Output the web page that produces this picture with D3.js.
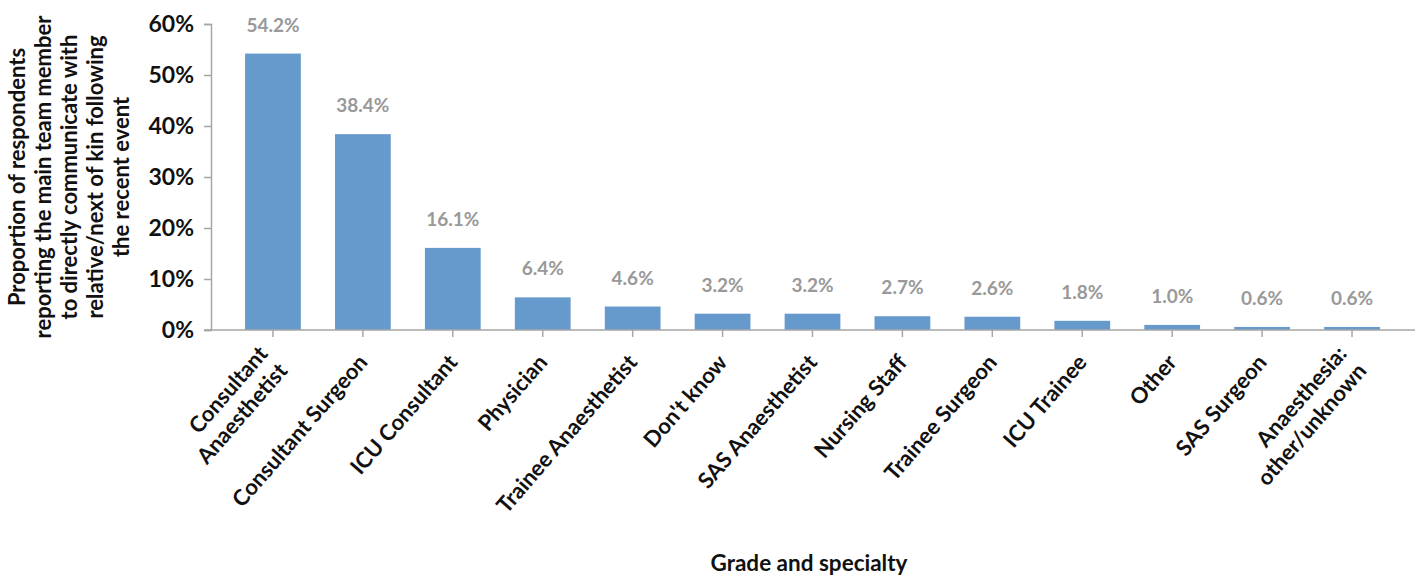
<!DOCTYPE html>
<html><head><meta charset="utf-8">
<script src="https://cdn.jsdelivr.net/npm/d3@7"></script>
<style>body{margin:0;background:#fff}svg{display:block}text{font-family:Lato,"Open Sans",sans-serif}</style>
</head><body><svg id="c" width="1421" height="576"></svg>
<script>
const categories = ["Consultant\nAnaesthetist","Consultant Surgeon","ICU Consultant","Physician","Trainee Anaesthetist","Don't know","SAS Anaesthetist","Nursing Staff","Trainee Surgeon","ICU Trainee","Other","SAS Surgeon","Anaesthesia:\nother/unknown"];
const values = [54.2,38.4,16.1,6.4,4.6,3.2,3.2,2.7,2.6,1.8,1.0,0.6,0.6];
const yTicks = [0,10,20,30,40,50,60];
const yTitle = ["Proportion of respondents","reporting the main team member","to directly communicate with","relative/next of kin following","the recent event"];
const xTitle = "Grade and specialty";

const svg = d3.select("#c");
const axisColor = "#a6a6a6";
const x = d3.scaleBand().domain(categories).range([228,1397]).paddingInner(0.38).paddingOuter(0.19);
const y = d3.scaleLinear().domain([0,60]).range([330,24]);

// bars
svg.selectAll("rect.bar").data(values).join("rect")
  .attr("x",(d,i)=>x(categories[i])).attr("width",x.bandwidth())
  .attr("y",d=>y(d)).attr("height",d=>y(0)-y(d)).attr("fill","#6699cc");

// value labels
svg.selectAll("text.val").data(values).join("text")
  .attr("x",(d,i)=>x(categories[i])+x.bandwidth()/2).attr("y",d=>y(d)-22)
  .attr("text-anchor","middle").attr("font-size",19).attr("font-weight",700).attr("fill","#999999")
  .text(d=>d.toFixed(1)+"%");

// y axis
const ya = svg.append("g").attr("transform","translate(211,0)")
  .call(d3.axisLeft(y).tickValues(yTicks).tickSize(7).tickPadding(10).tickFormat(d=>d+"%"));
ya.selectAll("path,line").attr("stroke",axisColor).attr("stroke-width",1.5);
ya.selectAll("text").attr("font-size",23).attr("font-weight",700).attr("fill","#111").attr("font-family","Lato,sans-serif");

// x axis
const xa = svg.append("g").attr("transform","translate(0,330)")
  .call(d3.axisBottom(x).tickSize(7).tickFormat(""));
xa.select("path.domain").remove();
xa.append("line").attr("x1",204).attr("x2",1415).attr("y1",0).attr("y2",0);
xa.selectAll("line").attr("stroke",axisColor).attr("stroke-width",1.5);

// x tick labels
const lab = svg.append("g").selectAll("g").data(categories).join("g")
  .attr("transform",d=>`translate(${x(d)+x.bandwidth()/2},358) rotate(-49)`);
lab.each(function(d){
  const lines = d.split("\n");
  const t = d3.select(this).append("text").attr("text-anchor","end").attr("font-size",22).attr("font-weight",700).attr("fill","#111");
  lines.forEach((l,i)=>{
    t.append("tspan").attr("x",0).attr("y",(i-(lines.length-1)/2)*26).attr("dy","0.35em").text(l);
  });
});

// y title
const yt = svg.append("text").attr("transform","translate(0,177) rotate(-90)")
  .attr("text-anchor","middle").attr("font-size",22).attr("font-weight",700).attr("fill","#111");
yTitle.forEach((l,i)=>yt.append("tspan").attr("x",0).attr("y",25+i*26).text(l));

// x title
svg.append("text").attr("x",809).attr("y",571).attr("text-anchor","middle")
  .attr("font-size",22.5).attr("font-weight",700).attr("fill","#111").text(xTitle);
</script></body></html>
